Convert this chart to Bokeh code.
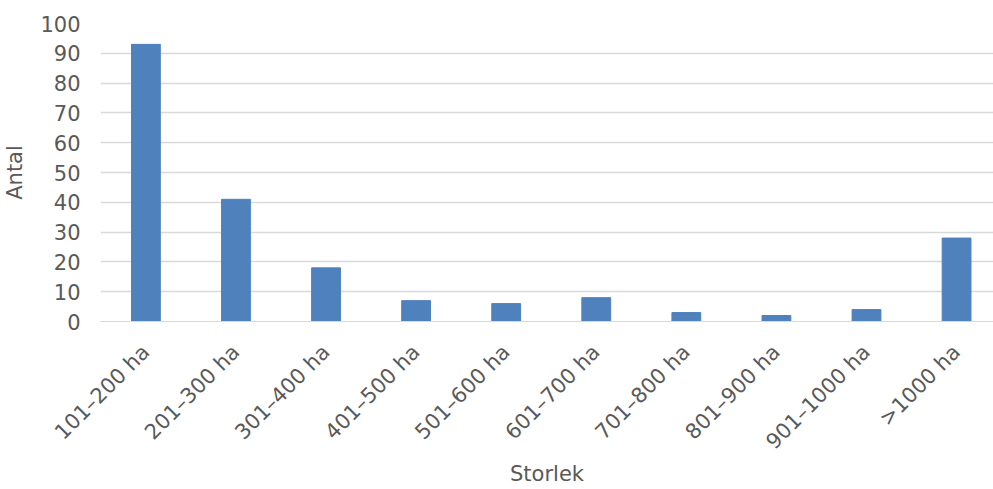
import math
from bokeh.plotting import figure
from bokeh.models import Range1d, FixedTicker, ColumnDataSource
from bokeh.embed import file_html
from bokeh.resources import INLINE

categories = ["101–200 ha", "201–300 ha", "301–400 ha", "401–500 ha", "501–600 ha",
              "601–700 ha", "701–800 ha", "801–900 ha", "901–1000 ha", ">1000 ha"]
antal = [93, 41, 18, 7, 6, 8, 3, 2, 4, 28]
y_ticks = [0, 10, 20, 30, 40, 50, 60, 70, 80, 90, 100]

FONT = "DejaVu Sans"
TXT = "#595959"

xs = list(range(len(categories)))
src = ColumnDataSource(dict(x=xs, top=antal))

p = figure(width=993, height=489, output_backend="svg", toolbar_location=None,
           x_range=Range1d(-0.504, 9.41), y_range=Range1d(0, 100),
           min_border_left=99, min_border_right=0, min_border_top=23, min_border_bottom=167)
p.outline_line_color = None
p.background_fill_color = "white"
p.border_fill_color = "white"

p.vbar(x="x", top="top", width=0.32, bottom=0, source=src, color="#4f81bd")

# y axis
p.yaxis.ticker = FixedTicker(ticks=y_ticks)
p.yaxis.axis_line_color = None
p.yaxis.major_tick_line_color = None
p.yaxis.minor_tick_line_color = None
p.yaxis.major_tick_out = 0
p.yaxis.major_label_standoff = 20
p.yaxis.major_label_text_font = FONT
p.yaxis.major_label_text_font_size = "21px"
p.yaxis.major_label_text_color = TXT
p.yaxis.axis_label = "Antal"
p.yaxis.axis_label_text_font = FONT
p.yaxis.axis_label_text_font_size = "21px"
p.yaxis.axis_label_text_font_style = "normal"
p.yaxis.axis_label_text_color = TXT
p.yaxis.axis_label_standoff = 10

# x axis
p.xaxis.ticker = FixedTicker(ticks=xs)
p.xaxis.major_label_overrides = {i: c for i, c in zip(xs, categories)}
p.xaxis.major_label_orientation = math.pi / 4
p.xaxis.axis_line_color = "#d9d9d9"
p.xaxis.major_tick_line_color = None
p.xaxis.minor_tick_line_color = None
p.xaxis.major_tick_out = 0
p.xaxis.major_label_standoff = 27
p.xaxis.major_label_text_font = FONT
p.xaxis.major_label_text_font_size = "21px"
p.xaxis.major_label_text_color = TXT
p.xaxis.major_label_text_line_height = 0.8
p.xaxis.axis_label = "Storlek"
p.xaxis.axis_label_text_font = FONT
p.xaxis.axis_label_text_font_size = "21px"
p.xaxis.axis_label_text_font_style = "normal"
p.xaxis.axis_label_text_color = TXT
p.xaxis.axis_label_text_line_height = 0.8
p.xaxis.axis_label_standoff = -3

p.xgrid.grid_line_color = None
p.ygrid.grid_line_color = "#d9d9d9"
p.ygrid.grid_line_width = 1.5

open("out.html", "w").write(file_html(p, INLINE))
